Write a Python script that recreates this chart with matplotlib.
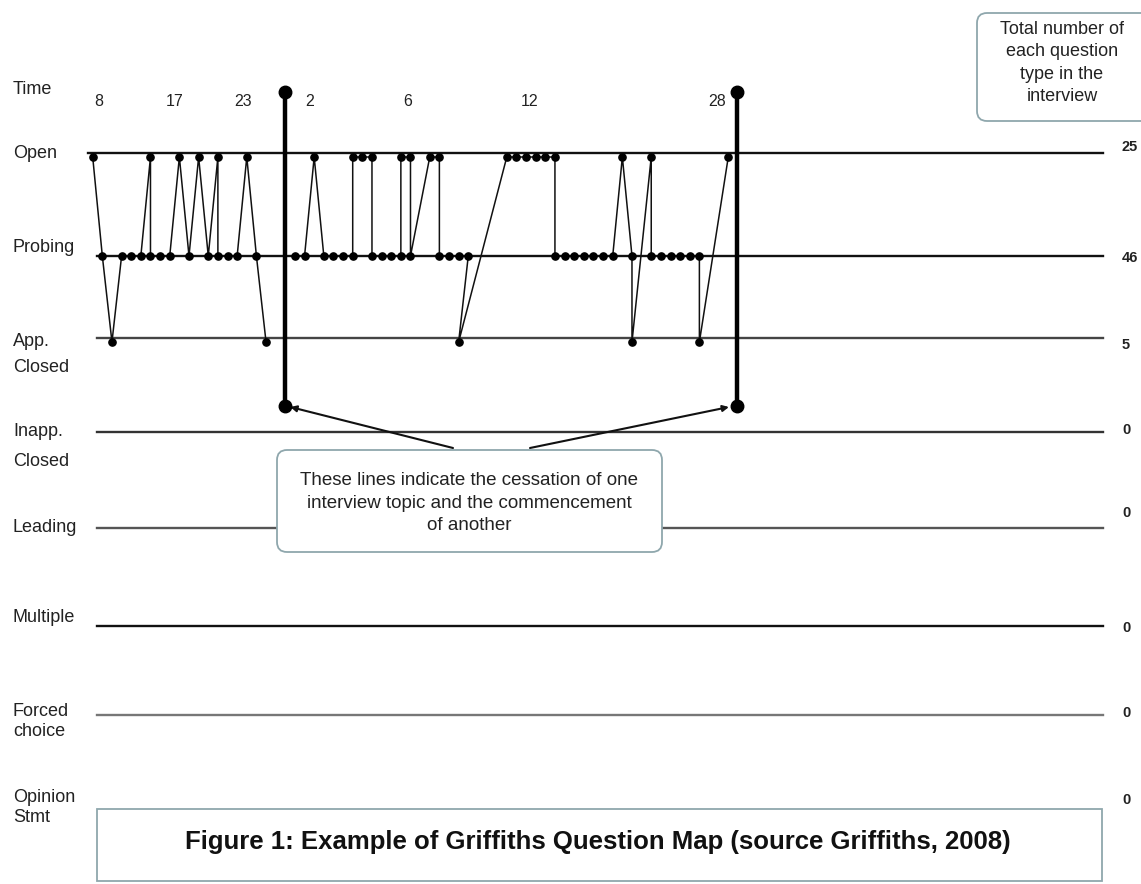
"""Griffiths question map: sequence of question types across an interview."""

import matplotlib.pyplot as plt
from matplotlib.patches import FancyBboxPatch, Rectangle

plt.rcParams["font.family"] = ["Liberation Sans", "DejaVu Sans"]

# ---- data ----
ROWS = ["Open", "Probing", "App.\nClosed", "Inapp.\nClosed", "Leading",
        "Multiple", "Forced\nchoice", "Opinion\nStmt"]
TOTALS = ["25", "46", "5", "0", "0", "0", "0", "0"]

# question slots (time order) and row index of each question; O=0, P=1, A=2
topic1_slot = [0, 1, 2, 3, 4, 5, 6, 6, 7, 8, 9, 10, 11, 12, 13, 13, 14, 15, 16, 17, 18]
topic1_type = [0, 1, 2, 1, 1, 1, 0, 1, 1, 1, 0, 1, 0, 1, 0, 1, 1, 1, 0, 1, 2]

topic2_slot = [21, 22, 23, 24, 25, 26, 27, 27, 28, 29, 29, 30, 31, 32, 32, 33, 33,
               35, 36, 36, 37, 38, 39, 38,
               43, 44, 45, 46, 47, 48, 48, 49, 50, 51, 52, 53, 54, 55, 56, 56,
               58, 58, 59, 60, 61, 62, 63, 63, 66]
topic2_type = [1, 1, 0, 1, 1, 1, 1, 0, 0, 0, 1, 1, 1, 1, 0, 0, 1,
               0, 0, 1, 1, 1, 1, 2,
               0, 0, 0, 0, 0, 0, 1, 1, 1, 1, 1, 1, 1, 0, 1, 2,
               0, 1, 1, 1, 1, 1, 1, 2, 0]

topic_breaks = [20, 66.9]
time_labels = ["8", "17", "23", "2", "6", "12", "28"]
time_slots = [0.6, 8.5, 15.6, 22.5, 32.7, 45.4, 64.8]

# ---- layout (pixels) ----
W, H = 1141, 884
X0, STEP = 92.7, 9.63
ROW_Y = [153, 256, 338, 432, 528, 626, 715, 806]
DOT_DY = [4, 0, 4]
LINE_X0 = [88, 97, 97, 97, 97, 97, 97, 97]
LINE_X1 = 1103
LINE_COL = ["#111111", "#111111", "#444444", "#333333", "#555555",
            "#111111", "#777777", None]
LABEL_Y = [153, 248, (342, 368), (432, 462), 528, 618, (712, 732), (798, 818)]
TOTAL_Y = [147, 258, 345, 430, 513, 628, 713, 800]
TEXT = "#222222"
EDGE = "#8fa7ad"


def sx(s):
    return X0 + STEP * s


fig = plt.figure(figsize=(W / 100, H / 100), dpi=100)
ax = fig.add_axes([0, 0, 1, 1])
ax.set_xlim(0, W)
ax.set_ylim(H, 0)
ax.axis("off")

# level lines, labels and totals
for i, name in enumerate(ROWS):
    if LINE_COL[i]:
        ax.plot([LINE_X0[i], LINE_X1], [ROW_Y[i]] * 2, color=LINE_COL[i], lw=1.7, zorder=1)
    ly = LABEL_Y[i]
    if isinstance(ly, tuple):
        for part, y in zip(name.split("\n"), ly):
            ax.text(13, y, part, fontsize=13, color=TEXT, va="center", ha="left")
    else:
        ax.text(13, ly, name, fontsize=13, color=TEXT, va="center", ha="left")
    ax.text(1122, TOTAL_Y[i], TOTALS[i], fontsize=10.5, weight="bold", color=TEXT,
            va="center", ha="left")

ax.text(13, 90, "Time", fontsize=13, color=TEXT, va="center", ha="left")
for lab, s in zip(time_labels, time_slots):
    ax.text(sx(s), 101, lab, fontsize=11.5, color=TEXT, va="center", ha="center")

# question sequences
for slots, kinds in [(topic1_slot, topic1_type), (topic2_slot, topic2_type)]:
    xs = [sx(s) for s in slots]
    ys = [ROW_Y[k] + DOT_DY[k] for k in kinds]
    ax.plot(xs, ys, color="#111111", lw=1.1, marker="o", ms=5.2,
            markerfacecolor="black", markeredgecolor="black", zorder=3)

# topic boundaries
for b in topic_breaks:
    ax.plot([sx(b), sx(b)], [92, 406], color="black", lw=3.2, zorder=4)
    ax.plot([sx(b), sx(b)], [92, 406], ls="none", marker="o", ms=9,
            color="black", zorder=4)

# arrows from the callout to the boundary ends
for start, end in [((453, 448), (sx(topic_breaks[0]) + 5, 407)),
                   ((530, 448), (sx(topic_breaks[1]) - 8, 407))]:
    ax.annotate("", xy=end, xytext=start,
                arrowprops=dict(arrowstyle="-|>", color="#111111", lw=1.5,
                                mutation_scale=9, shrinkA=0, shrinkB=0), zorder=2)

# callout in the middle
mid = FancyBboxPatch((277, 450), 385, 102, boxstyle="round,pad=0,rounding_size=10",
                     facecolor="white", edgecolor=EDGE, lw=1.3, zorder=5)
ax.add_patch(mid)
ax.text(469, 503, "These lines indicate the cessation of one\n"
        "interview topic and the commencement\nof another",
        fontsize=13.5, color=TEXT, ha="center", va="center", linespacing=1.45, zorder=6)

# callout top right
top = FancyBboxPatch((977, 13), 175, 108, boxstyle="round,pad=0,rounding_size=10",
                     facecolor="white", edgecolor=EDGE, lw=1.3, zorder=5)
ax.add_patch(top)
ax.text(1062, 63, "Total number of\neach question\ntype in the\ninterview",
        fontsize=13, color=TEXT, ha="center", va="center", linespacing=1.4, zorder=6)

# caption box
ax.add_patch(Rectangle((97, 809), 1005, 72, facecolor="white", edgecolor=EDGE,
                       lw=1.3, zorder=5))
ax.text(598, 842, "Figure 1: Example of Griffiths Question Map (source Griffiths, 2008)",
        fontsize=18.5, weight="bold", color="#111111", ha="center", va="center", zorder=6)

fig.savefig("out.png", dpi=100)
